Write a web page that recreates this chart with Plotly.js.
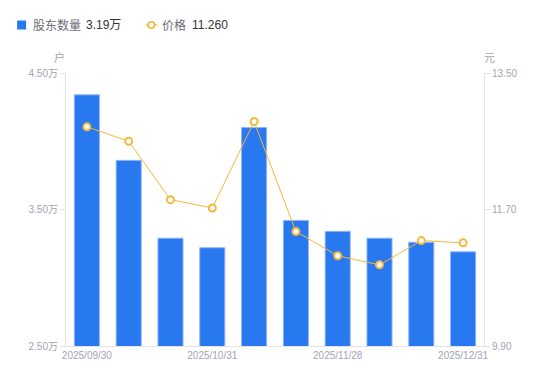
<!DOCTYPE html>
<html>
<head>
<meta charset="utf-8">
<script src="https://cdn.plot.ly/plotly-3.0.1.min.js"></script>
<style>
html,body{margin:0;padding:0;background:#fff;}
#chart{width:550px;height:381px;}
</style>
</head>
<body>
<div id="chart"></div>
<script>
const dates = ["2025/09/30","2025/10/10","2025/10/20","2025/10/31","2025/11/10","2025/11/20","2025/11/28","2025/12/10","2025/12/20","2025/12/31"];
const holders = [4.34, 3.86, 3.29, 3.22, 4.10, 3.42, 3.34, 3.29, 3.26, 3.19]; // 万户
const prices = [12.79, 12.60, 11.83, 11.72, 12.86, 11.41, 11.09, 10.97, 11.29, 11.26];
const xTicks = ["2025/09/30","2025/10/31","2025/11/28","2025/12/31"];
const leftTicks = [2.5, 3.5, 4.5];
const leftTickText = ["2.50万","3.50万","4.50万"];
const rightTicks = [9.9, 11.7, 13.5];
const rightTickText = ["9.90","11.70","13.50"];

const FONT = "Liberation Sans, Arial, Noto Sans CJK SC, sans-serif";
const CJK = "Noto Sans CJK SC, sans-serif";
const axisColor = "#e3e3e8";
const tickFontColor = "#a3a3b3";
const orange = "#f6b73c";

const bar = {
  type: "bar", x: dates, y: holders, name: "股东数量",
  marker: {color: "#2878f0", line: {color: "#8fb6f6", width: 1}},
  yaxis: "y", hoverinfo: "skip"
};
const line = {
  type: "scatter", mode: "lines+markers", x: dates, y: prices, name: "价格",
  yaxis: "y2",
  line: {color: orange, width: 1},
  marker: {size: 7, color: "#ffffff", line: {color: orange, width: 2}},
  hoverinfo: "skip"
};

const lastH = holders[holders.length-1].toFixed(2) + "万";
const lastP = prices[prices.length-1].toFixed(3);

const PW = 419, PH = 273, L = 65.5, B = 346;
const px = v => (v - L) / PW;
const py = v => (B - v) / PH;

const layout = {
  width: 550, height: 381,
  margin: {l: 65.5, r: 65.5, t: 73, b: 35, pad: 0},
  paper_bgcolor: "#fff", plot_bgcolor: "#fff",
  showlegend: false,
  bargap: 0.4,
  font: {family: FONT, size: 10, color: tickFontColor},
  xaxis: {
    type: "category", tickmode: "array", tickvals: xTicks, ticktext: xTicks,
    showgrid: false, zeroline: false, showline: true, linecolor: axisColor, linewidth: 1,
    ticks: "", tickfont: {family: FONT, size: 10, color: tickFontColor},
    range: [-0.5, 9.5]
  },
  yaxis: {
    range: [2.5, 4.5], tickvals: leftTicks, ticktext: leftTickText,
    showgrid: false, zeroline: false, showline: true, linecolor: axisColor, linewidth: 1,
    ticks: "outside", ticklen: 5, tickcolor: axisColor, tickwidth: 1,
    tickfont: {family: FONT, size: 10, color: tickFontColor}
  },
  yaxis2: {
    overlaying: "y", side: "right",
    range: [9.9, 13.5], tickvals: rightTicks, ticktext: rightTickText,
    showgrid: false, zeroline: false, showline: true, linecolor: axisColor, linewidth: 1,
    ticks: "outside", ticklen: 5, tickcolor: axisColor, tickwidth: 1,
    tickfont: {family: FONT, size: 10, color: tickFontColor}
  },
  shapes: [
    {type: "rect", xref: "paper", yref: "paper", x0: px(16.5), x1: px(25.5),
     y0: py(29.5), y1: py(20.5), fillcolor: "#2878f0", line: {width: 0}},
    {type: "line", xref: "paper", yref: "paper", x0: px(145.5), x1: px(156.5),
     y0: py(25), y1: py(25), line: {color: orange, width: 1.5}},
    {type: "circle", xref: "paper", yref: "paper", x0: px(147.8), x1: px(154.2),
     y0: py(28.2), y1: py(21.8), fillcolor: "#fff", line: {color: orange, width: 1.6}}
  ],
  annotations: [
    {xref: "paper", yref: "paper", x: px(30), y: py(25), xanchor: "left", yanchor: "middle",
     text: "股东数量", showarrow: false, font: {family: CJK, size: 12, color: "#6e6e7a"}},
    {xref: "paper", yref: "paper", x: px(84), y: py(25), xanchor: "left", yanchor: "middle",
     text: lastH, showarrow: false, font: {family: FONT + "," + CJK, size: 12, color: "#333"}},
    {xref: "paper", yref: "paper", x: px(160), y: py(25), xanchor: "left", yanchor: "middle",
     text: "价格", showarrow: false, font: {family: CJK, size: 12, color: "#6e6e7a"}},
    {xref: "paper", yref: "paper", x: px(190), y: py(25), xanchor: "left", yanchor: "middle",
     text: lastP, showarrow: false, font: {family: FONT, size: 12, color: "#333"}},
    {xref: "paper", yref: "paper", x: px(58.5), y: py(57), xanchor: "center", yanchor: "middle",
     text: "户", showarrow: false, font: {family: CJK, size: 11, color: tickFontColor}},
    {xref: "paper", yref: "paper", x: px(490), y: py(57), xanchor: "center", yanchor: "middle",
     text: "元", showarrow: false, font: {family: CJK, size: 11, color: tickFontColor}}
  ]
};

Plotly.newPlot("chart", [bar, line], layout, {staticPlot: true, displayModeBar: false});
</script>
</body>
</html>
